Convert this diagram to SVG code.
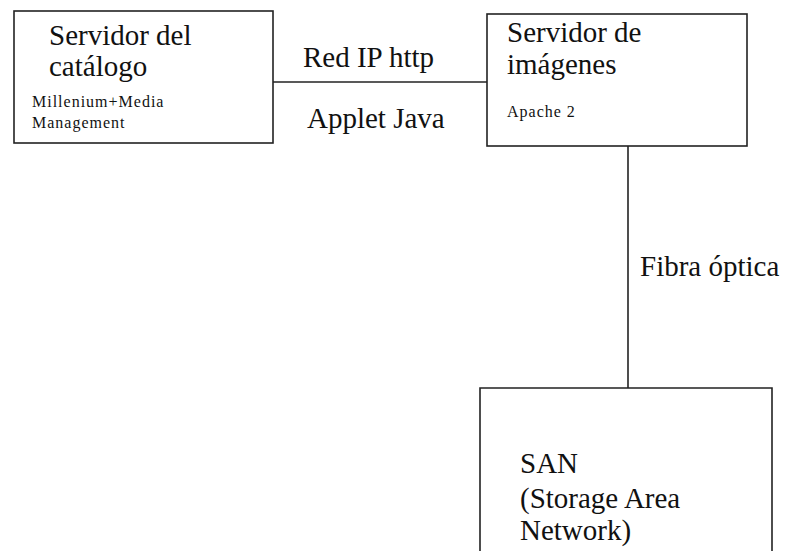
<svg xmlns="http://www.w3.org/2000/svg" width="790" height="551" viewBox="0 0 790 551">
<style>
.box{fill:#fff;stroke:#222;stroke-width:1.6}
.ln{stroke:#222;stroke-width:1.6;fill:none}
text{font-family:"Liberation Serif","Times New Roman",serif;fill:#111}
.big{font-size:29px}
.small{font-size:16px;letter-spacing:1px}
</style>
<rect width="790" height="551" fill="#fff"/>
<g id="connectors">
<line class="ln" x1="273" y1="82" x2="487" y2="82"/>
<line class="ln" x1="628" y1="146" x2="628" y2="388"/>
</g>
<g id="catalogo">
<rect class="box" x="14" y="11" width="259" height="132"/>
<text class="big" x="49" y="45">Servidor del</text>
<text class="big" x="49" y="76">catálogo</text>
<text class="small" x="32" y="107">Millenium+Media</text>
<text class="small" x="32" y="128">Management</text>
</g>
<g id="imagenes">
<rect class="box" x="487" y="14" width="260" height="132"/>
<text class="big" x="507" y="42">Servidor de</text>
<text class="big" x="507" y="74">imágenes</text>
<text class="small" x="507" y="117">Apache 2</text>
</g>
<g id="san">
<path class="ln" d="M480 560 V388 H772 V560"/>
<text class="big" x="520" y="473">SAN</text>
<text class="big" x="520" y="508">(Storage Area</text>
<text class="big" x="520" y="540">Network)</text>
</g>
<g id="labels">
<text class="big" x="303" y="67">Red IP http</text>
<text class="big" x="307" y="128">Applet Java</text>
<text class="big" x="640" y="276">Fibra óptica</text>
</g>
</svg>
